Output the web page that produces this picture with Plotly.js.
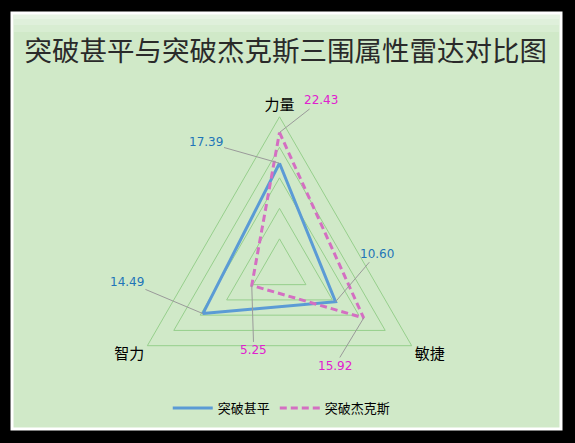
<!DOCTYPE html>
<html>
<head>
<meta charset="utf-8">
<script src="https://cdn.plot.ly/plotly-3.0.1.min.js"></script>
<style>
  html, body { margin: 0; padding: 0; background: #000; }
  #chart { width: 575px; height: 443px; }
</style>
</head>
<body>
<div id="chart"></div>
<script>
// 数据
var attrs = ['力量', '敏捷', '智力'];
var jiaping = [17.39, 10.60, 14.49];   // 突破甚平
var jiekesi = [22.43, 15.92, 5.25];    // 突破杰克斯
var names = ['突破甚平', '突破杰克斯'];

var cjk = '"Noto Sans CJK SC", "Noto Sans", sans-serif';
var green = '#d0e9c8';
var gridc = '#96cf8c';

// 闭合多边形
function closeLoop(a) { return a.concat([a[0]]); }

var traces = [{
        type: 'scatterpolar',
        r: closeLoop(jiaping),
        theta: closeLoop(attrs),
        mode: 'lines',
        name: names[0],
        line: {color: '#5b9bd5', width: 3},
        hoverinfo: 'skip'
    },
    {
        type: 'scatterpolar',
        r: closeLoop(jiekesi),
        theta: closeLoop(attrs),
        mode: 'lines',
        name: names[1],
        line: {color: '#d46fc2', width: 3, dash: '7px,4px'},
        hoverinfo: 'skip'
    }
];

// 数据标签: 通过一个与极坐标重合的隐藏直角坐标系定位
var dom = {x: [0.2207, 0.7515], y: [0.0474, 0.7364]};
var offsets = [
    [[-74, -21], [41, -48], [-76, -32]],
    [[41, -32], [-29, 48], [2, 65]]
];
var labelColors = ['#1f75b8', '#e020cf'];
var annotations = [];
[jiaping, jiekesi].forEach(function(series, s) {
    series.forEach(function(v, i) {
        var ang = i * 120 * Math.PI / 180;
        annotations.push({
            xref: 'x', yref: 'y',
            x: v * Math.sin(ang), y: v * Math.cos(ang),
            text: v.toFixed(2),
            showarrow: true, arrowhead: 0, arrowwidth: 1, arrowcolor: '#9a9a9a',
            standoff: 0,
            ax: offsets[s][i][0], ay: offsets[s][i][1],
            font: {family: '"DejaVu Sans", Verdana, sans-serif', size: 12, color: labelColors[s]}
        });
    });
});

var shapes = [{
        type: 'rect', xref: 'paper', yref: 'paper', layer: 'below',
        x0: 12 / 575, x1: 561 / 575, y0: 1 - 429 / 443, y1: 1 - 13 / 443,
        fillcolor: green, line: {color: '#ffffff', width: 3}
    }
];
// 顶部渐变高光
[[14, 32, 0.18], [14, 25, 0.2], [14, 19, 0.25]].forEach(function(b) {
    shapes.push({
        type: 'rect', xref: 'paper', yref: 'paper', layer: 'below',
        x0: 14 / 575, x1: 559 / 575, y0: 1 - b[1] / 443, y1: 1 - b[0] / 443,
        fillcolor: 'rgba(255,255,255,' + b[2] + ')', line: {width: 0}
    });
});

var layout = {
    width: 575,
    height: 443,
    margin: {l: 0, r: 0, t: 0, b: 0},
    paper_bgcolor: '#000000',
    plot_bgcolor: 'rgba(0,0,0,0)',
    title: {
        text: '突破甚平与突破杰克斯三围属性雷达对比图',
        x: 0.497, xanchor: 'center',
        y: 1 - 51 / 443, yanchor: 'middle',
        font: {family: cjk, size: 27.5, color: '#2a2a2a'}
    },
    polar: {
        domain: dom,
        bgcolor: 'rgba(0,0,0,0)',
        gridshape: 'linear',
        radialaxis: {
            range: [0, 25], dtick: 5, showline: false, showticklabels: false,
            ticks: '', gridcolor: gridc, gridwidth: 1
        },
        angularaxis: {
            rotation: 90, direction: 'clockwise',
            showgrid: false, showline: true, linecolor: gridc, linewidth: 1, ticks: '',
            tickfont: {family: cjk, size: 15, color: '#000000'}
        }
    },
    xaxis: {domain: dom.x, range: [-25, 25], visible: false, fixedrange: true},
    yaxis: {domain: dom.y, range: [-25, 25], visible: false, fixedrange: true},
    showlegend: true,
    legend: {
        orientation: 'h',
        x: 0.49, xanchor: 'center',
        y: 1 - 408 / 443, yanchor: 'middle',
        bgcolor: 'rgba(0,0,0,0)',
        font: {family: cjk, size: 13, color: '#000000'},
        itemwidth: 40
    },
    annotations: annotations,
    shapes: shapes
};

Plotly.newPlot('chart', traces, layout, {displayModeBar: false, staticPlot: true});
</script>
</body>
</html>
